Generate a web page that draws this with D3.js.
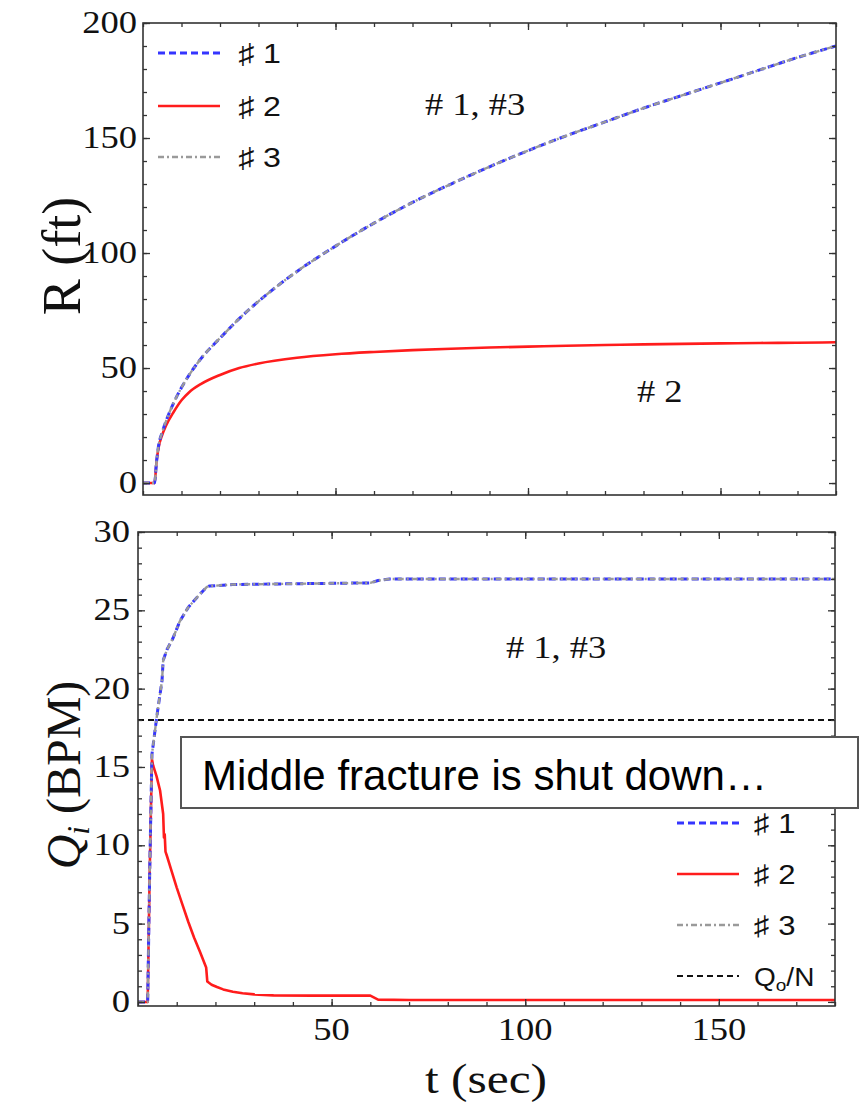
<!DOCTYPE html>
<html><head><meta charset="utf-8">
<script src="https://cdn.jsdelivr.net/npm/d3@7"></script>
<style>body{margin:0;background:#fff}</style></head>
<body>
<svg id="c" width="860" height="1103"></svg>
<script>
// ---------- data ----------
const tR = [0,3,3.5,4,5,6,8,10,12,15,20,25,30,40,50,60,70,80,90,100,110,120,130,140,150,160,170,180];
const R1 = [0,0,9,15.8,22.1,27,35,41.5,47,54,63,71.5,79,92,103,113,122,130,137.5,144.5,151,157,163,168.5,174,179.5,185,190];
const R2 = [0,0,9,15,21,25,31,36,39.5,43,47,50,52,54.5,56,57,57.8,58.4,58.9,59.3,59.7,60,60.3,60.5,60.7,60.9,61.0,61.2];
const R3 = R1.slice();

const tQ1 = [0,2.5,3.0,3.6,4.9,6.2,6.5,7.5,9,10.8,13,15.5,17.8,18.5,24.5,42,60,62,65,180];
const Q1  = [0,0,8,15.8,18.3,20.5,21.8,22.5,23.2,24.3,25.2,25.9,26.5,26.55,26.65,26.7,26.75,26.9,27.0,27.0];
const Q3  = Q1.slice();
const tQ2 = [0,2.5,3.0,3.6,3.9,4.8,5.7,6.5,6.7,6.9,7.1,7.5,8.5,10,11.5,13,14.5,16,17.6,17.9,19,20.4,22,24.5,27,30,35,45,60,62,70,180];
const Q2  = [0,0,8,15.5,15.1,14.4,13.5,12.0,10.5,10.7,9.6,9.3,8.5,7.3,6.2,5.1,4.1,3.2,2.2,1.3,1.1,0.95,0.8,0.65,0.55,0.48,0.42,0.4,0.4,0.15,0.12,0.12];
const QoN = 18;

const xTickMajor = [50,100,150];
const xTickMinor = d3.range(0,181,10);
const yTopMajor = [0,50,100,150,200];
const yTopMinor = d3.range(0,201,10);
const yBotMajor = [0,5,10,15,20,25,30];
const yBotMinor = d3.range(0,31,1);
const legendTop = ["♯ 1","♯ 2","♯ 3"];
const legendBot = ["♯ 1","♯ 2","♯ 3"];

// ---------- styles ----------
const S1 = {stroke:"#3535ff", width:3, dash:"7,4"};
const S2 = {stroke:"#ff1c1c", width:2.6, dash:null};
const S3 = {stroke:"#9a9a9a", width:2.4, dash:"6,3,2,3"};
const SQ = {stroke:"#111", width:2, dash:"6,4"};

const svg = d3.select("#c");
const SX = 1.18;

function frameTicks(g, x, y, xMin, xMaj, yMin, yMaj) {
  const [x0,x1] = x.range(), [yb,yt] = y.range();
  const ax = (gen, tx, ty, vals, len) => g.append("g").attr("transform",`translate(${tx},${ty})`)
      .call(gen.tickValues(vals).tickSize(-len).tickFormat(""))
      .call(s=>{s.select(".domain").remove(); s.selectAll("line").attr("stroke","#333").attr("stroke-width",1.3);});
  ax(d3.axisBottom(x), 0, yb, xMin, 4); ax(d3.axisBottom(x), 0, yb, xMaj, 7);
  ax(d3.axisTop(x), 0, yt, xMin, 4);    ax(d3.axisTop(x), 0, yt, xMaj, 7);
  ax(d3.axisLeft(y), x0, 0, yMin, 4);   ax(d3.axisLeft(y), x0, 0, yMaj, 7);
  ax(d3.axisRight(y), x1, 0, yMin, 4);  ax(d3.axisRight(y), x1, 0, yMaj, 7);
  g.append("rect").attr("x",x0).attr("y",yt).attr("width",x1-x0).attr("height",yb-yt)
    .attr("fill","none").attr("stroke","#333").attr("stroke-width",1.6);
}

function stretchedText(g, x, y, txt, size, anchor, family, sx) {
  const t = g.append("g").attr("transform",`translate(${x},${y}) scale(${sx||SX},1)`)
    .append("text").attr("text-anchor",anchor||"start")
    .attr("font-family",family||"'Liberation Serif','Times New Roman',serif")
    .attr("font-size",size).attr("fill","#111").text(txt);
  return t;
}

function drawLine(g, x, y, ts, vs, st, curve) {
  const line = d3.line().x((d,i)=>x(ts[i])).y(d=>y(d)).curve(curve||d3.curveLinear);
  const p = g.append("path").datum(vs).attr("d",line).attr("fill","none")
    .attr("stroke",st.stroke).attr("stroke-width",st.width).attr("stroke-linejoin","round");
  if (st.dash) p.attr("stroke-dasharray",st.dash);
}

// ---------- top panel ----------
const xT = d3.scaleLinear().domain([0,180]).range([143,836]);
const yT = d3.scaleLinear().domain([-5.2,200]).range([495,23]);
const gT = svg.append("g");
svg.append("clipPath").attr("id","clipT").append("rect")
  .attr("x",143).attr("y",23).attr("width",693).attr("height",472);
const cT = gT.append("g").attr("clip-path","url(#clipT)");
drawLine(cT, xT, yT, tR, R2, S2, d3.curveMonotoneX);
drawLine(cT, xT, yT, tR, R1, S1, d3.curveMonotoneX);
drawLine(cT, xT, yT, tR, R3, S3, d3.curveMonotoneX);
frameTicks(gT, xT, yT, xTickMinor, xTickMajor, yTopMinor, yTopMajor);
yTopMajor.forEach(v => stretchedText(gT, 137, yT(v)+10, String(v), 31, "end"));
stretchedText(gT, 425, 115, "# 1, #3", 32, "start", null, 1.14);
stretchedText(gT, 637, 402, "# 2", 32, "start", null, 1.14);
// legend top
[S1,S2,S3].forEach((st,i)=>{
  const yy = [53,106,157][i];
  const l = gT.append("line").attr("x1",158).attr("x2",220).attr("y1",yy).attr("y2",yy)
    .attr("stroke",st.stroke).attr("stroke-width",st.width);
  if (st.dash) l.attr("stroke-dasharray",st.dash);
  stretchedText(gT, 238, yy+10, legendTop[i], 28, "start", "'Liberation Sans','DejaVu Sans',sans-serif", 1.15);
});
// y label top
svg.append("text").attr("transform","translate(80,256) rotate(-90)").attr("text-anchor","middle")
  .attr("font-family","'Liberation Serif','Times New Roman',serif").attr("font-size",54).attr("fill","#111")
  .text("R (ft)");

// ---------- bottom panel ----------
const xB = d3.scaleLinear().domain([0,180]).range([138,835]);
const yB = d3.scaleLinear().domain([-0.26,30]).range([1006,532]);
const gB = svg.append("g");
svg.append("clipPath").attr("id","clipB").append("rect")
  .attr("x",138).attr("y",532).attr("width",697).attr("height",474);
const cB = gB.append("g").attr("clip-path","url(#clipB)");
cB.append("line").attr("x1",xB(0)).attr("x2",xB(180)).attr("y1",yB(QoN)).attr("y2",yB(QoN))
  .attr("stroke",SQ.stroke).attr("stroke-width",SQ.width).attr("stroke-dasharray",SQ.dash);
drawLine(cB, xB, yB, tQ2, Q2, S2);
drawLine(cB, xB, yB, tQ1, Q1, S1);
drawLine(cB, xB, yB, tQ1, Q3, S3);
frameTicks(gB, xB, yB, xTickMinor, xTickMajor, yBotMinor, yBotMajor);
yBotMajor.forEach(v => stretchedText(gB, 130, yB(v)+10, String(v), 31, "end"));
xTickMajor.forEach(v => stretchedText(gB, xB(v), 1040, String(v), 31, "middle"));
stretchedText(gB, 506, 658, "# 1, #3", 32, "start", null, 1.14);
// legend bottom
[S1,S2,S3,SQ].forEach((st,i)=>{
  const yy = [823,874,925,976][i];
  const l = gB.append("line").attr("x1",677).attr("x2",739).attr("y1",yy).attr("y2",yy)
    .attr("stroke",st.stroke).attr("stroke-width",st.width);
  if (st.dash) l.attr("stroke-dasharray",st.dash);
  if (i<3) stretchedText(gB, 754, yy+10, legendBot[i], 27, "start", "'Liberation Sans','DejaVu Sans',sans-serif", 1.15);
});
{
  const t = stretchedText(gB, 754, 986, "", 25, "start", "'Liberation Sans',sans-serif", 1.12);
  t.append("tspan").text("Q");
  t.append("tspan").attr("dy",5).attr("font-size",17).text("o");
  t.append("tspan").attr("dy",-5).text("/N");
}
// y label bottom
{
  const t = svg.append("text").attr("transform","translate(80,775) rotate(-90)").attr("text-anchor","middle")
    .attr("font-family","'Liberation Serif','Times New Roman',serif").attr("font-size",48).attr("fill","#111");
  t.append("tspan").attr("font-style","italic").text("Q");
  t.append("tspan").attr("font-style","italic").attr("font-size",31).attr("dy",9).text("i");
  t.append("tspan").attr("dy",-9).text(" (BPM)");
}
// x label
stretchedText(svg, 486, 1093, "t  (sec)", 43, "middle", null, 1.15);

// annotation box
svg.append("rect").attr("x",181).attr("y",737).attr("width",677).attr("height",71)
  .attr("fill","#fff").attr("stroke","#555").attr("stroke-width",2);
svg.append("text").attr("x",202).attr("y",790).attr("font-family","'Liberation Sans',Arial,sans-serif")
  .attr("font-size",42).attr("fill","#000").text("Middle fracture is shut down…");
</script>
</body></html>
